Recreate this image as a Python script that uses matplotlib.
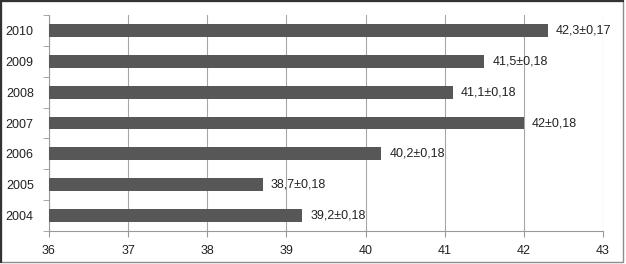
import matplotlib
matplotlib.use("Agg")
import matplotlib.pyplot as plt
from matplotlib.patches import Rectangle
from matplotlib.lines import Line2D

# datos
anios = ["2004", "2005", "2006", "2007", "2008", "2009", "2010"]
valores = [39.2, 38.7, 40.2, 42.0, 41.1, 41.5, 42.3]
etiquetas = ["39,2±0,18", "38,7±0,18", "40,2±0,18", "42±0,18", "41,1±0,18", "41,5±0,18", "42,3±0,17"]
xticks = [36, 37, 38, 39, 40, 41, 42, 43]

plt.rcParams['font.family'] = ['Liberation Sans', 'DejaVu Sans']

fig = plt.figure(figsize=(6.26, 2.64), dpi=100)
ax = fig.add_axes([49/626, 1 - 231/264, (603 - 49)/626, (231 - 15)/264])

pos = list(range(len(anios)))
ax.barh(pos, [v - 36 for v in valores], left=36, height=0.42, color="#575757", zorder=3)
for p, v, t in zip(pos, valores, etiquetas):
    ax.text(v + 0.1, p, t, va="center", ha="left", fontsize=9, color="#222222", zorder=4)

ax.set_xlim(36, 43)
ax.set_ylim(-0.5, len(anios) - 0.5)
ax.set_xticks(xticks)
ax.set_xticklabels([str(x) for x in xticks], fontsize=9, color="#222222")
ax.set_yticks(pos)
ax.set_yticklabels(anios, fontsize=9, color="#222222")
ax.tick_params(axis="y", length=0, pad=11)
ax.tick_params(axis="x", length=4, color="#999999", pad=6)
# marcas entre categorias
ax.set_yticks([p - 0.5 for p in pos] + [len(anios) - 0.5], minor=True)
ax.tick_params(axis="y", which="minor", length=4, color="#999999")

ax.grid(axis="x", color="#a6a6a6", linewidth=0.8, zorder=0)
for s in ["top", "right"]:
    ax.spines[s].set_visible(False)
ax.spines["left"].set_color("#999999")
ax.spines["bottom"].set_color("#999999")

# marco de la figura
fig.patches.append(Rectangle((0.002, 0.008), 0.994, 0.99, transform=fig.transFigure,
                             fill=False, edgecolor="#8c8c8c", linewidth=1))
fig.lines.append(Line2D([0.002, 0.002], [0.008, 0.998], transform=fig.transFigure, color="#333333", linewidth=1.5))
fig.lines.append(Line2D([0.002, 0.996], [0.997, 0.997], transform=fig.transFigure, color="#333333", linewidth=1.5))

fig.savefig("out.png", dpi=100)
